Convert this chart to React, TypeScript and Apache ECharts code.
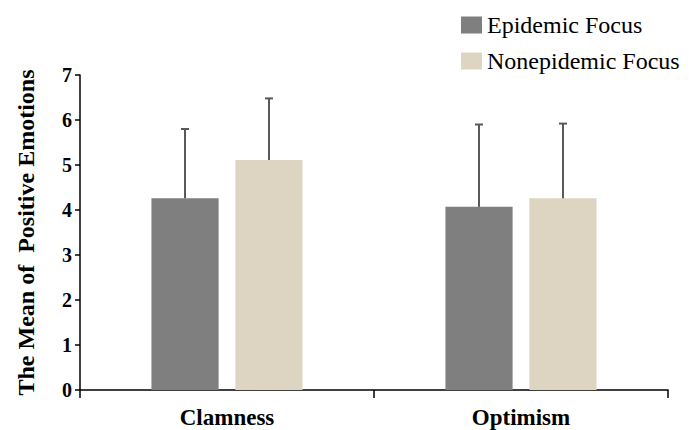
import React, { useEffect, useRef } from "react";
import * as echarts from "echarts";

const categories = ["Clamness", "Optimism"];
const seriesNames = ["Epidemic Focus", "Nonepidemic Focus"];
const epidemicMeans = [4.26, 4.07];
const epidemicSD = [1.54, 1.83];
const nonepidemicMeans = [5.11, 4.26];
const nonepidemicSD = [1.37, 1.66];
const yTicks = [0, 1, 2, 3, 4, 5, 6, 7];

const COLORS = ["#7f7f7f", "#ddd5c1"];
const CAT_GAP = 0.486;
const BAR_GAP = 0.25;

function errorSeries(name: string, means: number[], sds: number[], dir: number) {
  return {
    type: "custom",
    name,
    silent: true,
    z: 3,
    encode: { x: 0, y: 1 },
    data: means.map((m, i) => [i, m, sds[i]]),
    renderItem: (params: any, api: any) => {
      const idx = api.value(0);
      const mean = api.value(1);
      const sd = api.value(2);
      const base = api.coord([idx, mean]);
      const top = api.coord([idx, mean + sd]);
      const band = api.size([1, 0])[0];
      const bw = (band * (1 - CAT_GAP)) / (2 + BAR_GAP);
      const x = base[0] + (dir * (bw + BAR_GAP * bw)) / 2;
      const style = { stroke: "#595959", lineWidth: 2 };
      return {
        type: "group",
        children: [
          { type: "line", shape: { x1: x, y1: base[1], x2: x, y2: top[1] }, style },
          { type: "line", shape: { x1: x - 4, y1: top[1], x2: x + 4, y2: top[1] }, style },
        ],
      };
    },
  };
}

export default function App() {
  const ref = useRef<HTMLDivElement>(null);
  useEffect(() => {
    if (!ref.current) return;
    const chart = echarts.init(ref.current, null, { renderer: "svg" });
    const font = "'Liberation Serif', 'Times New Roman', serif";
    chart.setOption({
      animation: false,
      backgroundColor: "#ffffff",
      textStyle: { fontFamily: font },
      legend: {
        data: seriesNames,
        orient: "vertical",
        left: 456,
        top: 8,
        itemWidth: 21,
        itemHeight: 17,
        itemGap: 12,
        icon: "rect",
        textStyle: { fontFamily: font, fontSize: 24, color: "#000" },
      },
      grid: { left: 80, right: 21, top: 75, bottom: 40, outerBoundsMode: "none" },
      xAxis: {
        type: "category",
        data: categories,
        axisLine: { lineStyle: { color: "#000", width: 1.5 } },
        axisTick: { show: true, length: 8, lineStyle: { color: "#000", width: 1.5 } },
        axisLabel: { fontFamily: font, fontSize: 23, fontWeight: "bold", color: "#000", margin: 16 },
      },
      yAxis: {
        type: "value",
        min: 0,
        max: 7,
        interval: 1,
        name: "The Mean of  Positive Emotions",
        nameLocation: "middle",
        nameGap: 42,
        nameTextStyle: { fontFamily: font, fontSize: 24, fontWeight: "bold", color: "#000" },
        axisLine: { show: true, lineStyle: { color: "#000", width: 1.5 } },
        axisTick: { show: true, length: 5, lineStyle: { color: "#000", width: 1.5 } },
        axisLabel: {
          fontFamily: font,
          fontSize: 20,
          fontWeight: "bold",
          color: "#000",
          margin: 8,
          formatter: (v: number) => (yTicks.includes(v) ? String(v) : ""),
        },
        splitLine: { show: false },
      },
      series: [
        {
          type: "bar",
          name: seriesNames[0],
          data: epidemicMeans,
          itemStyle: { color: COLORS[0] },
          barCategoryGap: `${CAT_GAP * 100}%`,
          barGap: `${BAR_GAP * 100}%`,
        },
        {
          type: "bar",
          name: seriesNames[1],
          data: nonepidemicMeans,
          itemStyle: { color: COLORS[1] },
          barCategoryGap: `${CAT_GAP * 100}%`,
          barGap: `${BAR_GAP * 100}%`,
        },
        errorSeries("err-epidemic", epidemicMeans, epidemicSD, -1),
        errorSeries("err-nonepidemic", nonepidemicMeans, nonepidemicSD, 1),
      ],
    });
    return () => chart.dispose();
  }, []);
  return <div ref={ref} style={{ width: 689, height: 430, position: "fixed", left: 0, top: 0 }} />;
}
